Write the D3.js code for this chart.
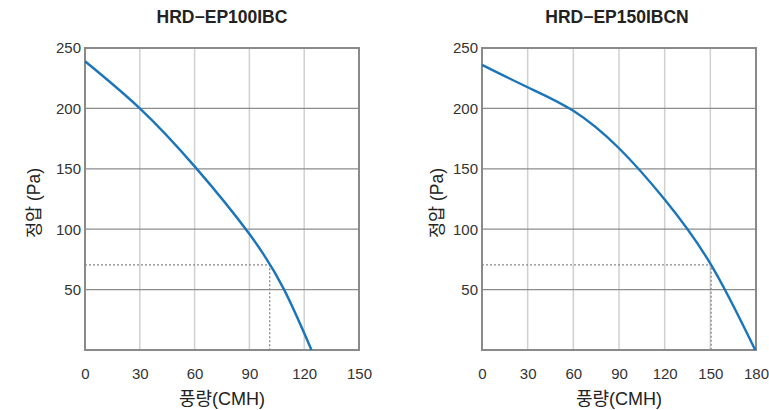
<!DOCTYPE html>
<html><head><meta charset="utf-8">
<script src="https://cdn.jsdelivr.net/npm/d3@7"></script>
<style>
body{margin:0;background:#fff;}
svg{display:block;font-family:"Liberation Sans","Noto Sans CJK KR",Arial,sans-serif;}
</style></head><body>
<svg id="c" width="769" height="410"></svg>
<script>
const titles = ["HRD−EP100IBC", "HRD−EP150IBCN"];
const yLabel = "정압 (Pa)";
const xLabel = "풍량(CMH)";
const yTicks = [50, 100, 150, 200, 250];
const xTicksA = [0, 30, 60, 90, 120, 150];
const xTicksB = [0, 30, 60, 90, 120, 150, 180];
const flowA = [0, 30, 60, 90, 109, 124];
const pressA = [239, 200, 152, 96, 50, 0];
const flowB = [0, 30, 60, 90, 120, 150.5, 179.5];
const pressB = [236, 217.5, 198, 167, 124.5, 70.5, 0];
const opA = [101.1, 70.5];
const opB = [150.5, 70.5];

const svg = d3.select("#c");
const panels = [
  {title: titles[0], xMax: 150, xTicks: xTicksA, flow: flowA, press: pressA, op: opA, x0: 85, x1: 359, ylx: 34, tx: 222},
  {title: titles[1], xMax: 180, xTicks: xTicksB, flow: flowB, press: pressB, op: opB, x0: 482, x1: 756, ylx: 437, tx: 617}
];
const yTop = 48, yBot = 350;

panels.forEach(p => {
  const x = d3.scaleLinear().domain([0, p.xMax]).range([p.x0, p.x1]);
  const y = d3.scaleLinear().domain([0, 250]).range([yBot, yTop]);
  const g = svg.append("g");

  g.selectAll(".vg").data(p.xTicks.slice(1, -1)).join("line")
    .attr("x1", d => x(d)).attr("x2", d => x(d)).attr("y1", yTop).attr("y2", yBot)
    .attr("stroke", "#d0d0d0").attr("stroke-width", 1.5);
  g.selectAll(".hg").data(yTicks.slice(0, -1)).join("line")
    .attr("x1", p.x0).attr("x2", p.x1).attr("y1", d => y(d)).attr("y2", d => y(d))
    .attr("stroke", "#8c8c8c").attr("stroke-width", 1.2);

  g.append("path")
    .attr("d", `M${p.x0},${y(p.op[1])}H${x(p.op[0])}V${yBot}`)
    .attr("fill", "none").attr("stroke", "#888").attr("stroke-width", 1.3)
    .attr("stroke-dasharray", "2,2");

  g.append("rect").attr("x", p.x0).attr("y", yTop).attr("width", p.x1 - p.x0).attr("height", yBot - yTop)
    .attr("fill", "none").attr("stroke", "#8a8a8a").attr("stroke-width", 2);

  const data = p.flow.map((f, i) => [f, p.press[i]]);
  g.append("path").datum(data)
    .attr("d", d3.line().x(d => x(d[0])).y(d => y(d[1])).curve(d3.curveNatural))
    .attr("fill", "none").attr("stroke", "#1a75bb").attr("stroke-width", 2.4);

  const xa = g.append("g").attr("transform", `translate(0,${yBot})`)
    .call(d3.axisBottom(x).tickValues(p.xTicks).tickSize(0).tickPadding(18));
  xa.select(".domain").remove();
  xa.selectAll("text").attr("font-size", 15).attr("fill", "#333").attr("font-family", "inherit");

  const ya = g.append("g").attr("transform", `translate(${p.x0},0)`)
    .call(d3.axisLeft(y).tickValues(yTicks).tickSize(0).tickPadding(4));
  ya.select(".domain").remove();
  ya.selectAll("text").attr("font-size", 15).attr("fill", "#333").attr("font-family", "inherit");

  g.append("text").attr("x", p.tx).attr("y", 23).attr("text-anchor", "middle")
    .attr("font-size", 17.5).attr("font-weight", "bold").attr("fill", "#222").text(p.title);
  g.append("text").attr("x", (p.x0 + p.x1) / 2).attr("y", 405).attr("text-anchor", "middle")
    .attr("font-size", 18).attr("fill", "#222").text(xLabel);
  g.append("text").attr("transform", `translate(${p.ylx},${(yTop + yBot) / 2 + 4}) rotate(-90)`)
    .attr("text-anchor", "middle").attr("dy", "0.35em")
    .attr("font-size", 17.5).attr("fill", "#222").text(yLabel);
});
</script>
</body></html>
